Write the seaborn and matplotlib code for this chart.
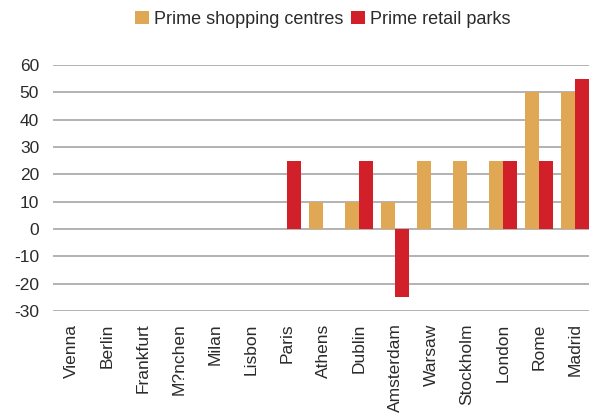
import matplotlib
matplotlib.use("Agg")
import matplotlib.pyplot as plt
import seaborn as sns
import pandas as pd

cities = ["Vienna", "Berlin", "Frankfurt", "M?nchen", "Milan", "Lisbon", "Paris",
          "Athens", "Dublin", "Amsterdam", "Warsaw", "Stockholm", "London", "Rome", "Madrid"]
shopping_centres = [0, 0, 0, 0, 0, 0, 0, 10, 10, 10, 25, 25, 25, 50, 50]
retail_parks = [0, 0, 0, 0, 0, 0, 25, 0, 25, -25, 0, 0, 25, 25, 55]
series_names = ["Prime shopping centres", "Prime retail parks"]
colors = ["#E0A854", "#D2202A"]
y_ticks = [-30, -20, -10, 0, 10, 20, 30, 40, 50, 60]

df = pd.DataFrame({
    "city": cities * 2,
    "value": shopping_centres + retail_parks,
    "series": [series_names[0]] * len(cities) + [series_names[1]] * len(cities),
})

sns.set_theme(style="white")
plt.rcParams["font.family"] = ["Liberation Sans", "DejaVu Sans"]
plt.rcParams["axes.unicode_minus"] = False

fig = plt.figure(figsize=(5.89, 4.15), dpi=100)
ax = fig.add_axes([53 / 589, (415 - 311) / 415, 540 / 589, 246 / 415])

sns.barplot(data=df, x="city", y="value", hue="series", order=cities,
            hue_order=series_names, palette=colors, width=0.8,
            saturation=1, errorbar=None, linewidth=0, ax=ax, zorder=3)

ax.set_ylim(-30, 60)
ax.set_yticks(y_ticks)
ax.set_xlim(-0.5, len(cities) - 0.5)
ax.yaxis.grid(True, color="#A6A6A6", linewidth=1.2, zorder=0)
ax.set_axisbelow(True)
for s in ax.spines.values():
    s.set_visible(False)
ax.set_xlabel("")
ax.set_ylabel("")
ax.tick_params(axis="y", length=0, pad=10, labelsize=12.5, labelcolor="#2b2b2b")
ax.tick_params(axis="x", length=0, pad=9, labelsize=12.5, labelcolor="#2b2b2b")
plt.setp(ax.get_xticklabels(), rotation=90)

handles, labels = ax.get_legend_handles_labels()
ax.legend(handles, labels, loc="center", bbox_to_anchor=(0.5, 1.185),
          ncol=2, frameon=False, fontsize=13, handlelength=0.75,
          handleheight=0.75, handletextpad=0.3, columnspacing=0.4,
          labelcolor="#2b2b2b")

fig.savefig("out.png", dpi=100)
